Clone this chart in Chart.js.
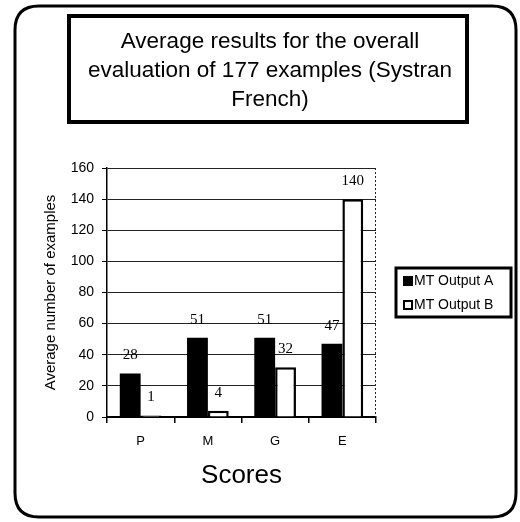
<!DOCTYPE html>
<html>
<head>
<meta charset="utf-8">
<script src="https://cdn.jsdelivr.net/npm/chart.js@4/dist/chart.umd.min.js"></script>
<style>
  html, body { margin: 0; padding: 0; background: #fff; }
  #wrap { width: 520px; height: 522px; position: relative; }
</style>
</head>
<body>
<div id="wrap"><canvas id="scores"></canvas></div>
<script>
var titleLines = ['Average results for the overall', 'evaluation of 177 examples (Systran', 'French)'];
var categories = ['P', 'M', 'G', 'E'];
var outputA = [28, 51, 51, 47];
var outputB = [1, 4, 32, 140];
var seriesNames = ['MT Output A', 'MT Output B'];
var yTitle = 'Average number of examples';
var xTitle = 'Scores';

var sans = '"Liberation Sans", Arial, sans-serif';
var serif = '"Liberation Serif", "Times New Roman", serif';

function roundRect(ctx, x, y, w, h, r) {
  ctx.beginPath();
  ctx.moveTo(x + r, y);
  ctx.lineTo(x + w - r, y);
  ctx.quadraticCurveTo(x + w, y, x + w, y + r);
  ctx.lineTo(x + w, y + h - r);
  ctx.quadraticCurveTo(x + w, y + h, x + w - r, y + h);
  ctx.lineTo(x + r, y + h);
  ctx.quadraticCurveTo(x, y + h, x, y + h - r);
  ctx.lineTo(x, y + r);
  ctx.quadraticCurveTo(x, y, x + r, y);
  ctx.closePath();
}

// frame, title box and title text
var framePlugin = {
  id: 'frame',
  beforeDraw: function(chart) {
    var ctx = chart.ctx;
    ctx.save();
    ctx.fillStyle = '#fff';
    ctx.fillRect(0, 0, chart.width, chart.height);
    ctx.strokeStyle = '#000';
    ctx.lineWidth = 3;
    roundRect(ctx, 15, 6, 501, 511, 24);
    ctx.stroke();

    ctx.lineWidth = 4;
    ctx.strokeRect(69, 16, 398, 106);

    ctx.fillStyle = '#000';
    ctx.font = '22.5px ' + sans;
    ctx.textAlign = 'center';
    ctx.textBaseline = 'middle';
    var ys = [42, 71, 100];
    for (var i = 0; i < titleLines.length; i++) {
      ctx.fillText(titleLines[i], 270, ys[i]);
    }
    ctx.restore();
  },
  afterDraw: function(chart) {
    var ctx = chart.ctx;
    var area = chart.chartArea;
    ctx.save();

    // dotted right edge of the plot
    ctx.strokeStyle = '#222';
    ctx.lineWidth = 1;
    ctx.setLineDash([2, 2]);
    ctx.beginPath();
    ctx.moveTo(area.right - 0.5, area.top);
    ctx.lineTo(area.right - 0.5, area.bottom);
    ctx.stroke();
    ctx.setLineDash([]);

    // value labels above each bar
    ctx.fillStyle = '#000';
    ctx.font = '15px ' + serif;
    ctx.textAlign = 'center';
    ctx.textBaseline = 'middle';
    chart.data.datasets.forEach(function(ds, di) {
      var meta = chart.getDatasetMeta(di);
      meta.data.forEach(function(bar, i) {
        ctx.fillText(String(ds.data[i]), bar.x, bar.y - 18);
      });
    });

    // legend box
    ctx.strokeStyle = '#000';
    ctx.lineWidth = 3;
    ctx.strokeRect(396, 268, 115, 49);
    ctx.font = '14px ' + sans;
    ctx.textAlign = 'left';
    var rows = [281, 305];
    chart.data.datasets.forEach(function(ds, di) {
      var y = rows[di];
      ctx.fillStyle = ds.backgroundColor;
      ctx.fillRect(404, y - 4, 8, 8);
      ctx.lineWidth = 2;
      ctx.strokeStyle = '#000';
      ctx.strokeRect(404, y - 4, 8, 8);
      ctx.fillStyle = '#000';
      ctx.fillText(ds.label, 414, y);
    });
    ctx.restore();
  }
};

var chart = new Chart(document.getElementById('scores').getContext('2d'), {
  type: 'bar',
  data: {
    labels: categories,
    datasets: [{
      label: seriesNames[0],
      data: outputA,
      backgroundColor: '#000',
      borderColor: '#000',
      borderWidth: 0
    }, {
      label: seriesNames[1],
      data: outputB,
      backgroundColor: '#fff',
      borderColor: '#000',
      borderWidth: 2.5
    }]
  },
  options: {
    responsive: true,
    maintainAspectRatio: false,
    animation: false,
    datasets: {
      bar: { categoryPercentage: 0.62, barPercentage: 1.0 }
    },
    layout: {
      padding: { left: 42, top: 168, right: 144, bottom: 31 }
    },
    plugins: {
      legend: { display: false },
      title: { display: false },
      tooltip: { enabled: false }
    },
    scales: {
      x: {
        offset: true,
        grid: {
          offset: true,
          drawOnChartArea: false,
          drawTicks: true,
          tickLength: 6,
          color: '#000',
          lineWidth: 1.5
        },
        border: { display: true, color: '#000', width: 2 },
        ticks: {
          color: '#000',
          font: { family: sans, size: 13 },
          padding: 11
        },
        title: {
          display: true,
          text: xTitle,
          color: '#000',
          font: { family: sans, size: 26 },
          padding: 0
        },
        afterFit: function(scale) { scale.height = 74; }
      },
      y: {
        min: 0,
        max: 160,
        ticks: {
          stepSize: 20,
          color: '#000',
          font: { family: sans, size: 14 },
          padding: 8
        },
        grid: {
          color: '#222',
          lineWidth: 1,
          borderDash: [12, 4, 3, 4],
          drawTicks: true,
          tickLength: 5,
          tickColor: '#000',
          tickBorderDash: []
        },
        border: { display: true, color: '#000', width: 1.5 },
        title: {
          display: true,
          text: yTitle,
          color: '#000',
          font: { family: sans, size: 15 },
          padding: 0
        },
        afterFit: function(scale) { scale.width = 65; }
      }
    }
  },
  plugins: [framePlugin]
});
</script>
</body>
</html>
